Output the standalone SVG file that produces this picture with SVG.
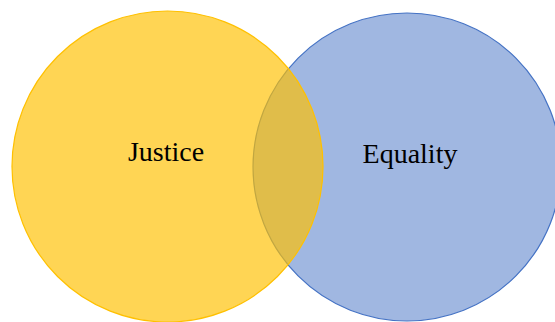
<svg xmlns="http://www.w3.org/2000/svg" width="555" height="322" viewBox="0 0 555 322">
<style>
.lbl{font-family:"Liberation Serif","Times New Roman",serif;font-size:28px;fill:#000;text-anchor:middle}
.eq{fill:rgba(68,114,196,0.51);stroke:#4472C4;stroke-width:1.2}
.ju{fill:rgba(255,192,0,0.67);stroke:#FFC000;stroke-width:1.2}
</style>
<rect width="555" height="322" fill="#fff"/>
<g id="equality">
<circle class="eq" cx="407" cy="167" r="154"/>
<text class="lbl" x="410" y="163">Equality</text>
</g>
<g id="justice">
<circle class="ju" cx="167.5" cy="166.5" r="155.5"/>
<text class="lbl" x="166" y="161">Justice</text>
</g>
<g id="connectors"></g>
</svg>
